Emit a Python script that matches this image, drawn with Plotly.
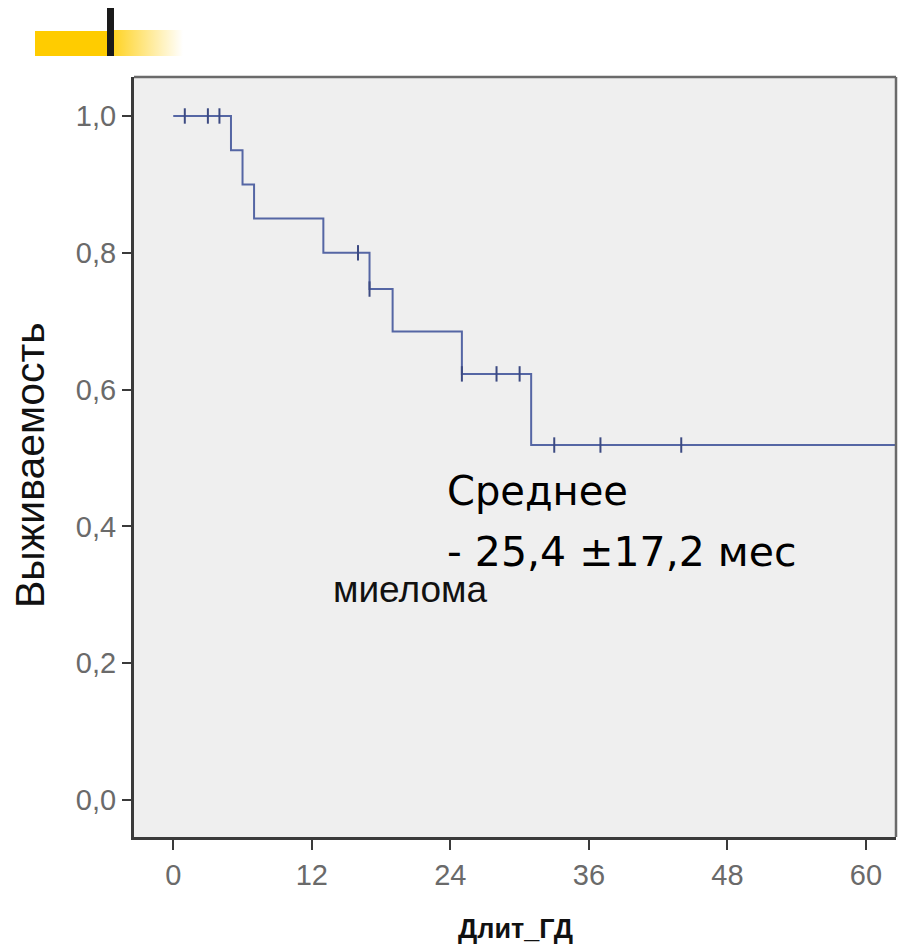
import base64
import plotly.graph_objects as go

# ---- data ----
event_times = [0, 5, 6, 7, 13, 17, 19, 25, 31, 63]
survival = [1.0, 0.95, 0.90, 0.85, 0.80, 0.747, 0.685, 0.623, 0.519, 0.519]
censor_times = [1, 3, 4, 16, 17, 25, 28, 30, 33, 37, 44]
x_ticks = [0, 12, 24, 36, 48, 60]
y_ticks = [0.0, 0.2, 0.4, 0.6, 0.8, 1.0]
y_tick_labels = ["0,0", "0,2", "0,4", "0,6", "0,8", "1,0"]


def surv_at(t):
    s = survival[0]
    for tt, v in zip(event_times, survival):
        if tt <= t:
            s = v
    return s


censor_vals = [surv_at(t) for t in censor_times]

W, H = 898, 949
L, R, T, B = 134, 2, 77, 112
PW, PH = W - L - R, H - T - B


def px(x):
    return (x - L) / PW


def py(y):
    return (H - B - y) / PH


fig = go.Figure()
fig.add_trace(go.Scatter(
    x=event_times, y=survival, mode="lines", line_shape="hv",
    line=dict(color="#5566a4", width=2), hoverinfo="skip", showlegend=False,
))
fig.add_trace(go.Scatter(
    x=censor_times, y=censor_vals, mode="markers",
    marker=dict(symbol="line-ns", size=11, line=dict(color="#3c4a82", width=2)),
    hoverinfo="skip", showlegend=False,
))

fig.update_xaxes(
    range=[-3.4, 62.6], tickvals=x_ticks, ticktext=[str(v) for v in x_ticks],
    showgrid=False, zeroline=False, showline=True, linecolor="#3a3a3a", linewidth=3,
    ticks="outside", ticklen=10, tickwidth=2, tickcolor="#3a3a3a",
    tickfont=dict(family="Liberation Sans, Arial", size=29, color="#6a6a6a"),
)
fig.update_yaxes(
    range=[-0.054, 1.057], tickvals=y_ticks, ticktext=y_tick_labels,
    showgrid=False, zeroline=False, showline=True, linecolor="#3a3a3a", linewidth=3,
    ticks="outside", ticklen=9, tickwidth=2, tickcolor="#3a3a3a",
    tickfont=dict(family="Liberation Sans, Arial", size=29, color="#6a6a6a"),
)

annotations = [
    dict(text="Выживаемость", xref="paper", yref="paper", x=px(30), y=py(465),
         textangle=-90, showarrow=False, xanchor="center", yanchor="middle",
         font=dict(family="Liberation Sans, Arial", size=41, color="#111111")),
    dict(text="<b>Длит_ГД</b>", xref="paper", yref="paper", x=px(515), y=py(929),
         showarrow=False, xanchor="center", yanchor="middle",
         font=dict(family="Liberation Sans, Arial", size=27, color="#111111")),
    dict(text="Среднее", xref="paper", yref="paper", x=px(445), y=py(491),
         showarrow=False, xanchor="left", yanchor="middle",
         font=dict(family="DejaVu Sans", size=40, color="#000000")),
    dict(text="- 25,4 ±17,2 мес", xref="paper", yref="paper", x=px(445), y=py(552),
         showarrow=False, xanchor="left", yanchor="middle",
         font=dict(family="DejaVu Sans", size=41, color="#000000")),
    dict(text="миелома", xref="paper", yref="paper", x=px(331), y=py(589),
         showarrow=False, xanchor="left", yanchor="middle",
         font=dict(family="Liberation Sans, Arial", size=37, color="#111111")),
]

shapes = [
    # top and right frame lines
    dict(type="line", xref="paper", yref="paper", x0=0, x1=1, y0=1, y1=1,
         line=dict(color="#6a6a6a", width=2.5)),
    dict(type="line", xref="paper", yref="paper", x0=1, x1=1, y0=0, y1=1,
         line=dict(color="#6a6a6a", width=2.5)),
    # top-left decoration
    dict(type="rect", xref="paper", yref="paper", x0=px(35), x1=px(107), y0=py(56), y1=py(31),
         fillcolor="#ffcc00", line=dict(width=0), layer="above"),
    dict(type="rect", xref="paper", yref="paper", x0=px(107), x1=px(114), y0=py(56), y1=py(8),
         fillcolor="#1a1a1a", line=dict(width=0), layer="above"),
]

svg = ('<svg xmlns="http://www.w3.org/2000/svg" width="70" height="26" viewBox="0 0 70 26">'
       '<defs><linearGradient id="g" x1="0" x2="1" y1="0" y2="0">'
       '<stop offset="0" stop-color="#ffcc00" stop-opacity="0.85"/>'
       '<stop offset="1" stop-color="#ffcc00" stop-opacity="0"/>'
       '</linearGradient></defs><rect width="70" height="26" fill="url(#g)"/></svg>')
src = "data:image/svg+xml;base64," + base64.b64encode(svg.encode()).decode()

fig.update_layout(
    width=W, height=H, margin=dict(l=L, r=R, t=T, b=B),
    paper_bgcolor="#ffffff", plot_bgcolor="#efefef",
    annotations=annotations, shapes=shapes,
    images=[dict(source=src, xref="paper", yref="paper", x=px(114), y=py(30),
                 sizex=px(183) - px(114), sizey=py(30) - py(56),
                 xanchor="left", yanchor="top", sizing="stretch", layer="above")],
)

fig.write_html(
    "out.html",
    config={"displayModeBar": False},
    post_script="document.body.style.margin='0';document.body.style.overflow='hidden';",
)
